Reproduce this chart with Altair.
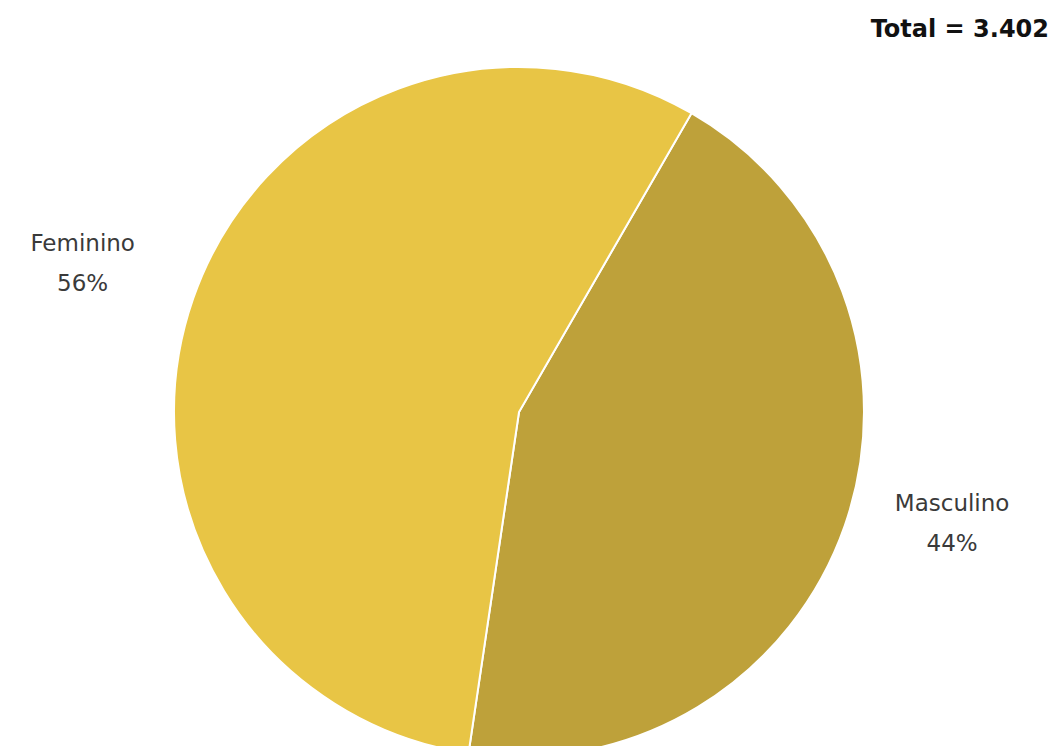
import altair as alt
import pandas as pd
import math

categories = ["Masculino", "Feminino"]
values = [1497, 1905]
percent_labels = ["44%", "56%"]
colors = ["#BEA13A", "#E8C545"]
total_label = "Total = 3.402"

df = pd.DataFrame({
    "cat": categories,
    "val": values,
    "order": [0, 1],
    "label": [[c, p] for c, p in zip(categories, percent_labels)],
})

start = math.radians(30)
total_value = sum(values)
theta_scale = alt.Scale(domain=[0, total_value], range=[start, start + 2 * math.pi])
cx, cy = 511, 404

base = alt.Chart(df).transform_window(
    cum="sum(val)", sort=[alt.SortField("order")]
).transform_calculate(
    start="datum.cum - datum.val", mid="datum.cum - datum.val / 2"
).encode(x=alt.value(cx), y=alt.value(cy))

pie = base.mark_arc(radius=345, stroke="white", strokeWidth=2).encode(
    theta=alt.Theta("start:Q", scale=theta_scale, stack=None),
    theta2="cum:Q",
    color=alt.Color("cat:N", scale=alt.Scale(domain=categories, range=colors), legend=None),
)

text_style = dict(font="DejaVu Sans", fontSize=23, color="#3a3a3a",
                  align="center", baseline="middle", lineHeight=40)

label_m = base.transform_filter(alt.datum.cat == "Masculino").mark_text(
    radius=447, dx=11, dy=-55, **text_style).encode(
    theta=alt.Theta("mid:Q", scale=theta_scale, stack=None), text="label")
label_f = base.transform_filter(alt.datum.cat == "Feminino").mark_text(
    radius=461, dx=-1, dy=-16, **text_style).encode(
    theta=alt.Theta("mid:Q", scale=theta_scale, stack=None), text="label")

total = alt.Chart(pd.DataFrame({"t": [total_label]})).mark_text(
    font="DejaVu Sans", fontSize=24, fontWeight="bold", color="#111",
    align="right", baseline="middle",
).encode(text="t:N", x=alt.value(1041), y=alt.value(22))

chart = alt.layer(pie, label_m, label_f, total).properties(
    width=1043, height=738, autosize=alt.AutoSizeParams(type="none"), padding=0
).configure_view(stroke=None)

chart.save("out.html", embed_options={"renderer": "svg", "actions": False})
